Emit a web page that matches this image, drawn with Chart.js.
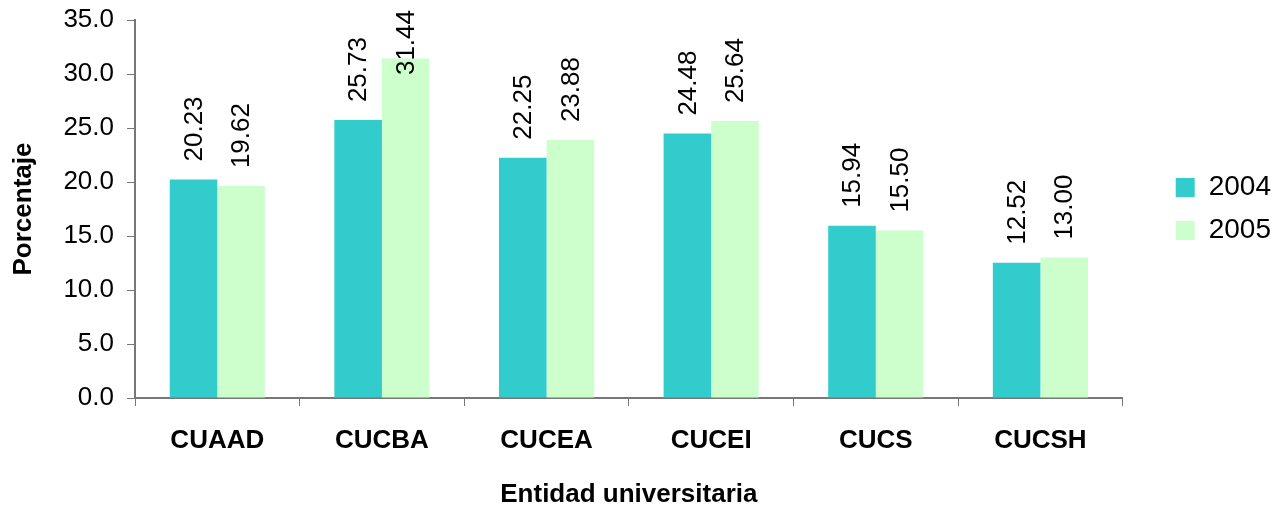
<!DOCTYPE html>
<html>
<head>
<meta charset="utf-8">
<script src="https://cdn.jsdelivr.net/npm/chart.js@4/dist/chart.umd.min.js"></script>
<style>
  html, body { margin: 0; padding: 0; background: #fff; }
  #wrap { width: 1281px; height: 510px; }
</style>
</head>
<body>
<div id="wrap"><canvas id="chart" width="1281" height="510"></canvas></div>
<script>
const categories = ["CUAAD", "CUCBA", "CUCEA", "CUCEI", "CUCS", "CUCSH"];
const values2004 = [20.23, 25.73, 22.25, 24.48, 15.94, 12.52];
const values2005 = [19.62, 31.44, 23.88, 25.64, 15.50, 13.00];
const seriesNames = ["2004", "2005"];

const FONT = "Arial, 'Liberation Sans', sans-serif";

//..rotated value labels above each bar, kept inside the top of the canvas
const valueLabels = {
    id: 'valueLabels',
    afterDatasetsDraw(chart) {
        const ctx = chart.ctx;
        ctx.save();
        ctx.font = "26px " + FONT;
        ctx.fillStyle = "#000";
        ctx.textAlign = "left";
        ctx.textBaseline = "middle";
        chart.data.datasets.forEach((ds, i) => {
            chart.getDatasetMeta(i).data.forEach((bar, j) => {
                const txt = ds.data[j].toFixed(2);
                const w = ctx.measureText(txt).width;
                let start = bar.y - 18;
                if (start - w < 10) start = 10 + w;
                ctx.save();
                ctx.translate(bar.x, start);
                ctx.rotate(-Math.PI / 2);
                ctx.fillText(txt, 0, 1);
                ctx.restore();
            });
        });
        ctx.restore();
    }
};

new Chart(document.getElementById("chart"), {
    type: 'bar',
    data: {
        labels: categories,
        datasets: [
            { label: seriesNames[0], data: values2004, backgroundColor: "#33CCCC" },
            { label: seriesNames[1], data: values2005, backgroundColor: "#CCFFCC" }
        ]
    },
    options: {
        responsive: false,
        animation: false,
        events: [],
        layout: { padding: { top: 20, left: 0, right: 0, bottom: 0 } },
        datasets: {
            bar: { categoryPercentage: 0.578, barPercentage: 1.0 }
        },
        plugins: {
            legend: {
                position: 'right',
                align: 'center',
                fullSize: false,
                labels: {
                    boxWidth: 19,
                    boxHeight: 19,
                    padding: 15,
                    color: "#000",
                    font: { family: FONT, size: 28 }
                }
            },
            tooltip: { enabled: false }
        },
        scales: {
            x: {
                grid: {
                    offset: true,
                    drawOnChartArea: false,
                    drawTicks: true,
                    tickLength: 8,
                    color: "#777"
                },
                border: { color: "#777", width: 2 },
                ticks: {
                    color: "#000",
                    padding: 19,
                    maxRotation: 0,
                    font: { family: FONT, size: 26, weight: 'bold' }
                },
                title: {
                    display: true,
                    text: "Entidad universitaria",
                    color: "#000",
                    padding: { top: 0, bottom: 0 },
                    font: { family: FONT, size: 26, weight: 'bold' }
                },
                afterFit(scale) { scale.height = 112; }
            },
            y: {
                min: 0,
                max: 35,
                grid: {
                    drawOnChartArea: false,
                    drawTicks: true,
                    tickLength: 8,
                    color: "#777"
                },
                border: { color: "#777", width: 2 },
                ticks: {
                    stepSize: 5,
                    color: "#000",
                    padding: 13,
                    font: { family: FONT, size: 26 },
                    callback: v => v.toFixed(1)
                },
                title: {
                    display: true,
                    text: "Porcentaje",
                    color: "#000",
                    padding: { top: 8, bottom: 0 },
                    font: { family: FONT, size: 26, weight: 'bold' }
                },
                afterFit(scale) {
                    scale.width = 135;
                    scale.paddingTop = 0;
                }
            },
            //..empty axis on the right, only leaves the gap before the legend
            gap: {
                position: 'right',
                display: true,
                grid: { display: false },
                border: { display: false },
                ticks: { display: false },
                afterFit(scale) { scale.width = 38; }
            }
        }
    },
    plugins: [valueLabels]
});
</script>
</body>
</html>
